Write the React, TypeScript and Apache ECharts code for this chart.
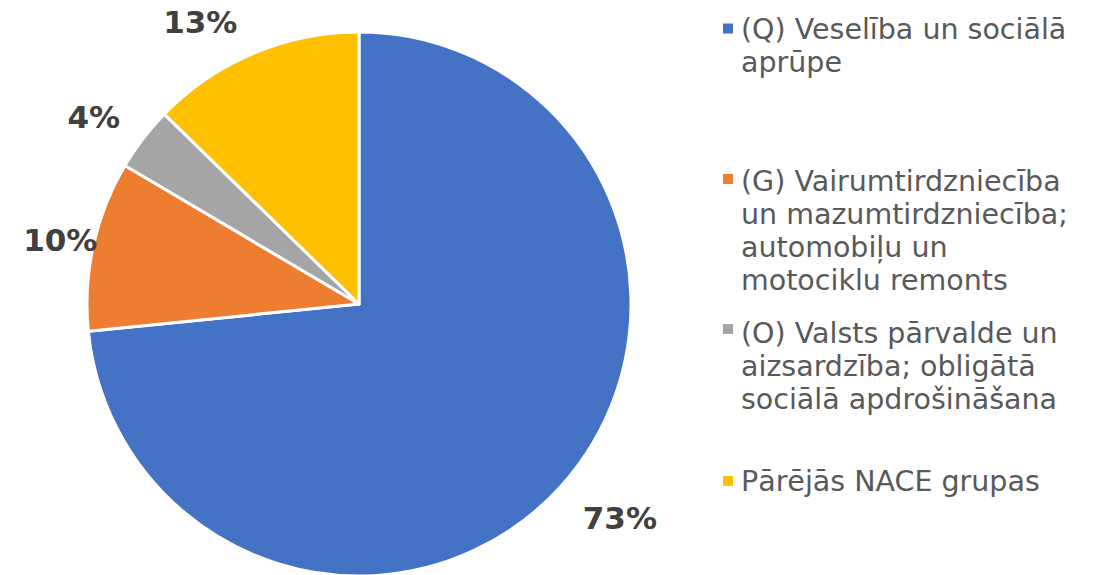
import React, { useEffect, useRef } from "react";
import * as echarts from "echarts";

const categories = [
  "(Q) Veselība un sociālā aprūpe",
  "(G) Vairumtirdzniecība un mazumtirdzniecība; automobiļu un motociklu remonts",
  "(O) Valsts pārvalde un aizsardzība; obligātā sociālā apdrošināšana",
  "Pārējās NACE grupas",
];
const legendLines = [
  ["(Q) Veselība un sociālā", "aprūpe"],
  ["(G) Vairumtirdzniecība", "un mazumtirdzniecība;", "automobiļu un", "motociklu remonts"],
  ["(O) Valsts pārvalde un", "aizsardzība; obligātā", "sociālā apdrošināšana"],
  ["Pārējās NACE grupas"],
];
const values = [73.4, 10.1, 3.8, 12.7];

const colors = ["#4472C4", "#ED7D31", "#A5A5A5", "#FFC000"];
const lineCenters = [29.5, 181.5, 333, 481.5];
const iconCenters = [28.5, 179, 329, 481];
const labelShift = [
  [22, 32],
  [4, -5],
  [-23, -22],
  [-16, -31],
];
const LH = 33;
const FONT = "DejaVu Sans";

export default function App() {
  const ref = useRef<HTMLDivElement>(null);
  useEffect(() => {
    document.body.style.margin = "0";
    const chart = echarts.init(ref.current!, null, { renderer: "svg" });
    const legends = categories.map((name, i) => {
      const n = legendLines[i].length;
      const H = n * LH;
      const s = iconCenters[i] - lineCenters[i] + LH / 2 - 5;
      const icon =
        "path://M0,0h0.01v0.01h-0.01z" +
        `M0,${s}h10v10h-10z` +
        `M12.99,${H - 0.01}h0.01v0.01h-0.01z`;
      return {
        data: [name],
        left: 723,
        top: lineCenters[i] - LH / 2,
        orient: "vertical",
        padding: 0,
        icon,
        itemWidth: 13,
        itemHeight: H,
        selectedMode: false,
        itemStyle: { borderWidth: 0 },
        formatter: () => legendLines[i].join("\n"),
        textStyle: {
          fontFamily: FONT,
          fontSize: 28.5,
          lineHeight: LH,
          color: "#595959",
        },
      };
    });
    chart.setOption({
      animation: false,
      color: colors,
      legend: legends,
      series: [
        {
          type: "pie",
          center: [359, 304],
          radius: 272,
          startAngle: 90,
          clockwise: true,
          avoidLabelOverlap: false,
          data: categories.map((name, i) => ({ name, value: values[i] })),
          itemStyle: { borderColor: "#fff", borderWidth: 3 },
          label: {
            show: true,
            position: "outside",
            formatter: (p: any) => Math.round(p.percent) + "%",
            fontFamily: FONT,
            fontSize: 31,
            fontWeight: "bold",
            color: "#404040",
            distanceToLabelLine: 0,
          },
          labelLine: { show: false, length: 0, length2: 0 },
          labelLayout: (p: any) => ({
            dx: labelShift[p.dataIndex][0],
            dy: labelShift[p.dataIndex][1],
          }),
          emphasis: { disabled: true },
        },
      ],
    });
    return () => chart.dispose();
  }, []);
  return <div ref={ref} style={{ width: 1094, height: 575 }} />;
}
